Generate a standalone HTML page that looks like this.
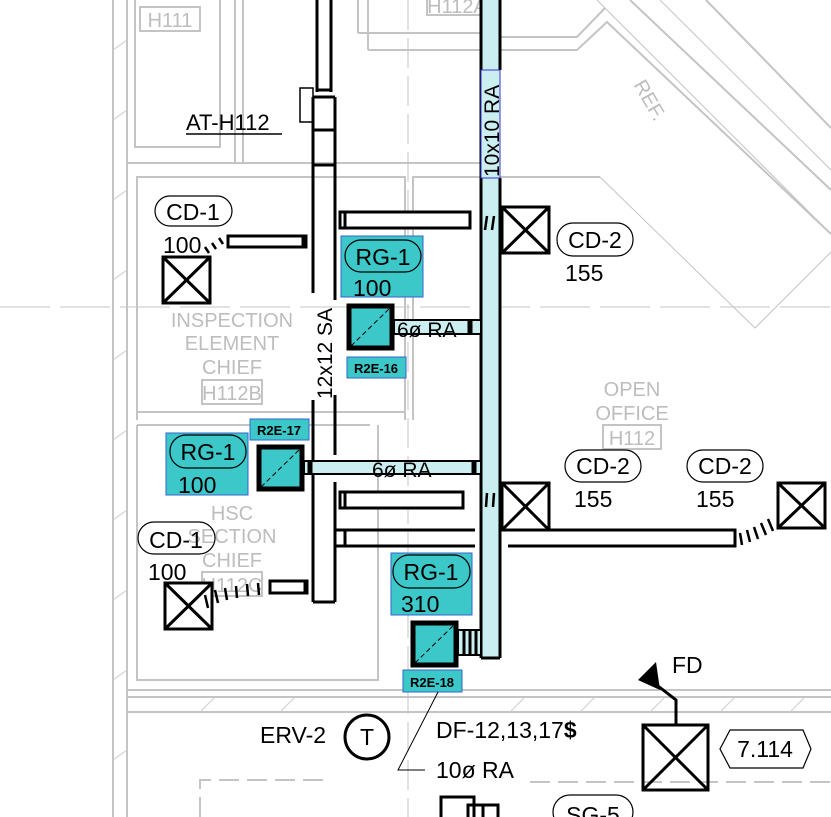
<!DOCTYPE html>
<html><head><meta charset="utf-8"><style>
html,body{margin:0;padding:0;background:#fff}
svg{display:block}
text{font-family:"Liberation Sans",sans-serif}
</style></head><body>
<svg width="831" height="817" viewBox="0 0 831 817" xmlns="http://www.w3.org/2000/svg">
<g stroke="#c4c4c4" fill="none" stroke-width="2">
<line x1="113" y1="0" x2="113" y2="817"/>
<line x1="127" y1="0" x2="127" y2="817"/>
<polyline points="135,0 135,147 220,147 220,0"/>
<line x1="235" y1="0" x2="235" y2="163"/>
<line x1="243" y1="0" x2="243" y2="163"/>
<line x1="127" y1="163" x2="480" y2="163"/>
<polyline points="137,420 137,177 405,177 405,420"/>
<polyline points="137,412 405,412"/>
<polyline points="413,420 413,177 600,177"/>
<polyline points="137,425 370,425"/>
<polyline points="137,425 137,680 378,680 378,425"/>
<line x1="127" y1="690" x2="831" y2="690"/>
<line x1="127" y1="697" x2="831" y2="697"/>
<line x1="127" y1="712" x2="831" y2="712"/>
<line x1="127" y1="712" x2="127" y2="817"/>
<line x1="358" y1="0" x2="358" y2="33"/>
<line x1="368" y1="0" x2="368" y2="50"/>
<polyline points="358,33 480,33"/>
<polyline points="368,50 480,50"/>
<polyline points="500,37 577,37 605,8"/>
<polyline points="500,50 577,50 607,22 831,234"/>
<line x1="597" y1="0" x2="831" y2="234" stroke-width="1"/>
<line x1="630" y1="0" x2="831" y2="190"/>
<line x1="660" y1="0" x2="831" y2="170" stroke-width="1"/>
<line x1="706" y1="0" x2="831" y2="128"/>
<polyline points="600,177 755,328 831,252" stroke-width="1"/>
<line x1="408" y1="0" x2="408" y2="817" stroke-width="1" stroke-dasharray="30,8"/>
<line x1="0" y1="307" x2="831" y2="307" stroke-width="1" stroke-dasharray="50,10"/>
<polyline points="200,817 200,780 330,780" stroke-dasharray="20,8"/>
<line x1="530" y1="782" x2="831" y2="782" stroke-dasharray="20,8"/>
</g>
<g stroke="#ccc" stroke-width="1">
<line x1="113" y1="50" x2="127" y2="40"/><line x1="113" y1="120" x2="127" y2="110"/><line x1="113" y1="200" x2="127" y2="190"/><line x1="113" y1="280" x2="127" y2="270"/><line x1="113" y1="360" x2="127" y2="350"/><line x1="113" y1="440" x2="127" y2="430"/><line x1="113" y1="520" x2="127" y2="510"/><line x1="113" y1="600" x2="127" y2="590"/><line x1="113" y1="680" x2="127" y2="670"/><line x1="113" y1="760" x2="127" y2="750"/>
<line x1="510" y1="712" x2="525" y2="697"/><line x1="580" y1="712" x2="595" y2="697"/><line x1="650" y1="712" x2="665" y2="697"/><line x1="720" y1="712" x2="735" y2="697"/><line x1="790" y1="712" x2="805" y2="697"/><line x1="200" y1="712" x2="215" y2="697"/><line x1="280" y1="712" x2="295" y2="697"/>
</g>
<g fill="#bdbdbd" font-size="20" text-anchor="middle">
<rect x="140" y="7" width="60" height="24" fill="none" stroke="#c4c4c4" stroke-width="2"/>
<text x="170" y="27">H111</text>
<rect x="427" y="-4" width="61" height="19" fill="none" stroke="#c4c4c4" stroke-width="2"/>
<text x="457" y="13">H112A</text>
<text x="232" y="327">INSPECTION</text><text x="232" y="350">ELEMENT</text><text x="232" y="374">CHIEF</text>
<rect x="202" y="380" width="60" height="24" fill="none" stroke="#c4c4c4" stroke-width="2"/><text x="232" y="400">H112B</text>
<text x="232" y="520">HSC</text><text x="232" y="543">SECTION</text><text x="232" y="567">CHIEF</text>
<rect x="202" y="572" width="60" height="24" fill="none" stroke="#c4c4c4" stroke-width="2"/><text x="232" y="592">H112C</text>
<text x="632" y="396">OPEN</text><text x="632" y="420">OFFICE</text>
<rect x="603" y="425" width="58" height="24" fill="none" stroke="#c4c4c4" stroke-width="2"/><text x="632" y="445">H112</text>
<text transform="translate(650,100) rotate(60)" x="0" y="7" font-size="20">REF.</text>
</g>
<rect x="481" y="0" width="19" height="658" fill="#cbeef0" stroke="none"/>
<g stroke="#000" stroke-width="3" fill="none">
<line x1="481" y1="0" x2="481" y2="658"/>
<line x1="500" y1="0" x2="500" y2="70"/><line x1="500" y1="178" x2="500" y2="658"/>
<line x1="481" y1="658" x2="500" y2="658"/>
</g>
<rect x="481" y="70" width="19" height="108" fill="#cbeef0" stroke="#33c" stroke-width="1"/>
<text transform="translate(499,177) rotate(-90)" font-size="21">10x10 RA</text>
<g stroke="#000" stroke-width="3" fill="none">
<line x1="317" y1="0" x2="317" y2="92"/><line x1="331" y1="0" x2="331" y2="92"/>
<line x1="317" y1="90" x2="331" y2="90"/>
<rect x="300" y="88" width="13" height="34" stroke-width="1.5"/>
<line x1="313" y1="97" x2="313" y2="293"/><line x1="313" y1="400" x2="313" y2="602"/>
<line x1="335" y1="97" x2="335" y2="300"/><line x1="335" y1="395" x2="335" y2="455"/><line x1="335" y1="482" x2="335" y2="602"/>
<line x1="313" y1="97" x2="335" y2="97"/><line x1="313" y1="130" x2="335" y2="130"/><line x1="313" y1="165" x2="335" y2="165"/>
<line x1="313" y1="602" x2="335" y2="602"/>
</g>
<text transform="translate(332,399) rotate(-90)" font-size="21">12x12 SA</text>
<text x="186" y="130" font-size="22">AT-H112</text>
<line x1="186" y1="134" x2="282" y2="134" stroke="#000" stroke-width="1.5"/>
<g stroke="#000" stroke-width="3" fill="#fff">
<rect x="340" y="212" width="130" height="16"/>
<line x1="345" y1="212" x2="345" y2="228"/>
<rect x="228" y="236" width="78" height="11"/>
<line x1="304" y1="236" x2="304" y2="247" stroke-width="5"/>
<rect x="163" y="257" width="47" height="46"/>
<line x1="163" y1="257" x2="210" y2="303"/><line x1="210" y1="257" x2="163" y2="303"/>
<rect x="502" y="207" width="47" height="46"/>
<line x1="502" y1="207" x2="549" y2="253"/><line x1="549" y1="207" x2="502" y2="253"/>
<rect x="340" y="492" width="123" height="16"/><line x1="345" y1="492" x2="345" y2="508"/>
<line x1="335" y1="530" x2="475" y2="530"/><line x1="335" y1="546" x2="475" y2="546"/>
<line x1="345" y1="530" x2="345" y2="546"/>
<polyline points="508,530 735,530 735,546 508,546" fill="none"/>
<rect x="502" y="483" width="47" height="47"/>
<line x1="502" y1="483" x2="549" y2="530"/><line x1="549" y1="483" x2="502" y2="530"/>
<rect x="778" y="483" width="47" height="45"/>
<line x1="778" y1="483" x2="825" y2="528"/><line x1="825" y1="483" x2="778" y2="528"/>
<rect x="270" y="581" width="37" height="12"/>
<line x1="306" y1="581" x2="306" y2="593" stroke-width="5"/>
<rect x="165" y="583" width="47" height="46"/>
<line x1="165" y1="583" x2="212" y2="629"/><line x1="212" y1="583" x2="165" y2="629"/>
</g>
<g stroke="#000" stroke-width="2.5">
<line x1="205" y1="247" x2="209" y2="253"/><line x1="212" y1="243" x2="216" y2="249"/><line x1="219" y1="238" x2="223" y2="244"/>
<line x1="487" y1="216" x2="485" y2="230"/><line x1="494" y1="216" x2="492" y2="230"/>
<line x1="487" y1="493" x2="486" y2="507"/><line x1="494" y1="493" x2="493" y2="507"/>
<line x1="740" y1="533" x2="742" y2="545"/><line x1="747" y1="530" x2="750" y2="542"/><line x1="754" y1="527" x2="758" y2="539"/><line x1="761" y1="523" x2="766" y2="535"/><line x1="768" y1="519" x2="773" y2="531"/>
<line x1="205" y1="595" x2="208" y2="608"/><line x1="215" y1="590" x2="218" y2="603"/><line x1="225" y1="588" x2="227" y2="600"/><line x1="236" y1="586" x2="237" y2="598"/><line x1="247" y1="584" x2="248" y2="596"/><line x1="258" y1="583" x2="259" y2="595"/>
</g>
<g stroke="#000" stroke-width="2" fill="#cbeef0">
<rect x="394" y="320" width="87" height="14"/>
<rect x="304" y="461" width="177" height="13"/>
<rect x="458" y="630" width="23" height="25"/>
</g>
<g stroke="#000" stroke-width="3">
<line x1="470" y1="320" x2="470" y2="334" stroke-width="5"/>
<line x1="310" y1="461" x2="310" y2="474" stroke-width="5"/>
<line x1="474" y1="461" x2="474" y2="474" stroke-width="5"/>
<line x1="464" y1="630" x2="464" y2="655"/><line x1="470" y1="630" x2="470" y2="655"/><line x1="476" y1="630" x2="476" y2="655"/>
</g>
<text x="397" y="337" font-size="21">6ø RA</text>
<text x="372" y="477" font-size="21">6ø RA</text>
<g fill="#3cc7c9">
<rect x="341" y="236" width="82" height="61" stroke="#36c" stroke-width="1"/>
<rect x="166" y="433" width="82" height="62" stroke="#36c" stroke-width="1"/>
<rect x="391" y="553" width="81" height="62" stroke="#36c" stroke-width="1"/>
<rect x="347" y="357" width="59" height="21" stroke="#36c" stroke-width="1"/>
<rect x="250" y="419" width="59" height="21" stroke="#36c" stroke-width="1"/>
<rect x="403" y="670" width="59" height="22" stroke="#36c" stroke-width="1"/>
<rect x="349" y="306" width="43" height="42" stroke="#000" stroke-width="5"/>
<rect x="259" y="447" width="43" height="42" stroke="#000" stroke-width="5"/>
<rect x="413" y="623" width="43" height="42" stroke="#000" stroke-width="5"/>
</g>
<g stroke="#000" stroke-width="1" stroke-dasharray="5,3">
<line x1="351" y1="346" x2="390" y2="308"/><line x1="261" y1="487" x2="300" y2="449"/><line x1="415" y1="663" x2="454" y2="625"/>
</g>
<g font-size="13" font-weight="bold" text-anchor="middle">
<text x="376" y="373">R2E-16</text><text x="279" y="435">R2E-17</text><text x="432" y="687">R2E-18</text>
</g>
<g fill="none" stroke="#000" stroke-width="1.2">
<rect x="155" y="196" width="77" height="30" rx="15"/>
<rect x="345" y="240" width="76" height="32" rx="16"/>
<rect x="557" y="223" width="76" height="33" rx="16"/>
<rect x="170" y="435" width="76" height="33" rx="16"/>
<rect x="565" y="450" width="76" height="32" rx="16"/>
<rect x="687" y="450" width="76" height="32" rx="16"/>
<rect x="138" y="522" width="77" height="32" rx="16"/>
<rect x="393" y="555" width="77" height="33" rx="16"/>
<rect x="553" y="795" width="80" height="34" rx="17"/>
<polygon points="720,749 730,730 803,730 811,749 803,768 730,768"/>
</g>
<g font-size="23">
<text x="193" y="220" text-anchor="middle">CD-1</text><text x="163" y="253">100</text>
<text x="383" y="265" text-anchor="middle">RG-1</text><text x="353" y="296">100</text>
<text x="595" y="248" text-anchor="middle">CD-2</text><text x="565" y="281">155</text>
<text x="208" y="460" text-anchor="middle">RG-1</text><text x="178" y="493">100</text>
<text x="603" y="474" text-anchor="middle">CD-2</text><text x="574" y="507">155</text>
<text x="725" y="474" text-anchor="middle">CD-2</text><text x="696" y="507">155</text>
<text x="176" y="548" text-anchor="middle">CD-1</text><text x="148" y="580">100</text>
<text x="431" y="580" text-anchor="middle">RG-1</text><text x="401" y="612">310</text>
<text x="260" y="743">ERV-2</text>
<text x="436" y="738">DF-12,13,17<tspan font-weight="bold">$</tspan></text>
<text x="436" y="778">10ø RA</text>
<text x="672" y="673">FD</text>
<text x="765" y="757" text-anchor="middle">7.114</text>
<text x="593" y="823" text-anchor="middle">SG-5</text>
<text x="367" y="745" text-anchor="middle">T</text>
</g>
<circle cx="367" cy="737" r="22" fill="none" stroke="#000" stroke-width="3"/>
<polyline points="438,692 398,770 425,770" fill="none" stroke="#000" stroke-width="1"/>
<polygon points="638,680 656,662 660,690" fill="#000"/>
<polyline points="658,686 676,700 676,725" fill="none" stroke="#000" stroke-width="3"/>
<g stroke="#000" stroke-width="3" fill="none">
<rect x="643" y="725" width="65" height="65"/>
<line x1="643" y1="725" x2="708" y2="790"/><line x1="708" y1="725" x2="643" y2="790"/>
<polyline points="441,817 441,797 474,797 474,817"/>
<polyline points="468,817 468,805 498,805 498,817"/>
<line x1="483" y1="805" x2="483" y2="817"/>
</g>
</svg>
</body></html>
